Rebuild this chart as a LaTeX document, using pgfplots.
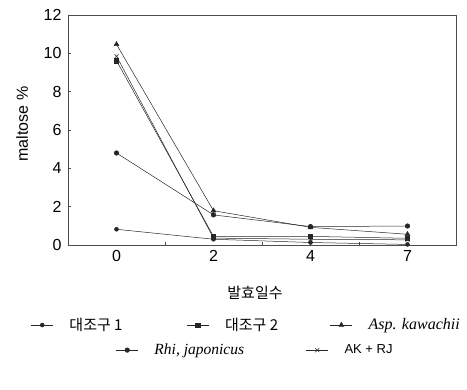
\documentclass[border=0pt]{standalone}
\usepackage{fontspec}
\usepackage{pgfplots}
\pgfplotsset{compat=1.18}
\setmainfont{Liberation Sans}
\newfontfamily\kr{Noto Sans CJK KR}
\newfontfamily\rmit{Liberation Serif}
\begin{document}
\begin{tikzpicture}
\path[use as bounding box] (-68bp,-145bp) rectangle (399bp,245bp);
\pgfplotsset{
  legend image code/.code={\draw[mark repeat=2,mark phase=2,#1] plot coordinates {(0bp,0bp)(11bp,0bp)(22bp,0bp)};},
}
\begin{axis}[
  scale only axis, width=388bp, height=230bp,
  xmin=-0.5, xmax=3.5, ymin=0, ymax=12,
  xtick={0,1,2,3}, xticklabels={0,2,4,7},
  minor xtick={0.5,1.5,2.5},
  ytick={0,2,4,6,8,10,12},
  tick align=inside, major tick length=3bp, minor tick length=3bp,
  major x tick style={draw=none},
  minor x tick style={draw=black!70, line width=0.4pt},
  y tick style={draw=black!70, line width=0.4pt},
  xtick pos=bottom, ytick pos=left,
  axis line style={black!70, line width=0.6pt},
  /pgf/number format/assume math mode=true,
  ticklabel style={font=\fontsize{16bp}{18bp}\selectfont},
  yticklabel style={xshift=-3bp},
  xticklabel style={yshift=-2bp},
  xlabel={\kr 발효일수},
  xlabel style={font=\fontsize{15bp}{17bp}\selectfont, at={(axis description cs:0.482,-0.209)}, anchor=center},
  ylabel={maltose \%},
  ylabel style={font=\fontsize{16bp}{18bp}\selectfont, at={(axis description cs:-0.118,0.526)}, anchor=center},
  every axis plot/.append style={black!85, line width=0.5pt},
  legend columns=3,
  legend style={draw=none, fill=none, inner sep=0pt, outer sep=0pt,
    at={(axis description cs:-0.0954,-0.348)}, anchor=west,
    font=\fontsize{15bp}{17bp}\selectfont,
    nodes={inner sep=1bp},
    /tikz/every odd column/.append style={column sep=15bp},
    /tikz/column 2/.style={column sep=63bp},
    /tikz/column 4/.style={column sep=51bp}},
]
\addplot[mark=*, mark size=2bp] coordinates {(0,0.82) (1,0.30) (2,0.13) (3,0.03)};
\addlegendentry{\kr 대조구 1}
\addplot[mark=square*, mark size=2.2bp] coordinates {(0,9.62) (1,0.45) (2,0.45) (3,0.35)};
\addlegendentry{\kr 대조구 2}
\addplot[mark=triangle*, mark size=2.8bp] coordinates {(0,10.47) (1,1.79) (2,0.92) (3,0.56)};
\addlegendentry{\rmit\itshape\fontsize{16bp}{18bp}\selectfont Asp. kawachii}
\addplot[mark=*, mark size=2.3bp, forget plot] coordinates {(0,4.80) (1,1.57) (2,0.96) (3,0.99)};
\addplot[mark=x, mark size=2.8bp, forget plot] coordinates {(0,9.85) (1,0.36) (2,0.30) (3,0.27)};
\end{axis}
\begin{axis}[
  scale only axis, width=388bp, height=230bp, hide axis,
  xmin=0, xmax=1, ymin=0, ymax=1,
  legend columns=2,
  legend style={draw=none, fill=none, inner sep=0pt, outer sep=0pt,
    at={(axis description cs:0.1237,-0.457)}, anchor=west,
    font=\fontsize{15bp}{17bp}\selectfont,
    nodes={inner sep=1bp},
    /tikz/every odd column/.append style={column sep=15bp},
    /tikz/column 2/.style={column sep=61bp}},
]
\addlegendimage{black!85, line width=0.5pt, mark=*, mark size=2.3bp}
\addlegendentry{\rmit\itshape\fontsize{15.5bp}{17bp}\selectfont Rhi, japonicus}
\addlegendimage{black!85, line width=0.5pt, mark=x, mark size=2.8bp}
\addlegendentry{\fontsize{13bp}{15bp}\selectfont AK + RJ}
\end{axis}
\end{tikzpicture}
\end{document}
